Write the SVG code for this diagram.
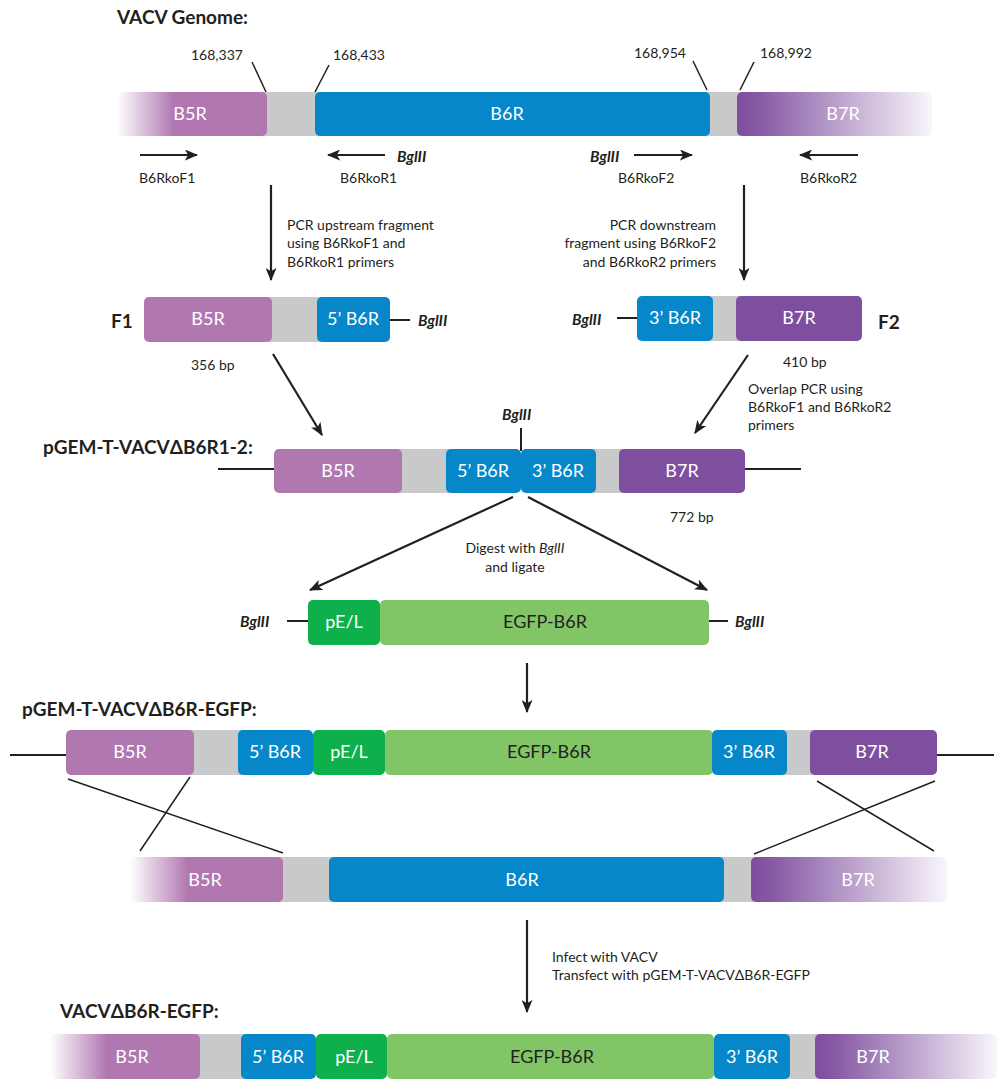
<svg xmlns="http://www.w3.org/2000/svg" width="997" height="1079" viewBox="0 0 997 1079">
<style>
text{font-family:Lato,"Open Sans","Liberation Sans",sans-serif;fill:#231F20}
.s{font-size:14px}
.h{font-size:19px;font-weight:bold}
.bi{font-size:15.5px;font-weight:bold;font-style:italic}
.bx{font-size:18px;fill:#fff;text-anchor:middle}
.dk{font-size:18px;fill:#231F20;text-anchor:middle}
.b5{fill:#B077B1}.b7{fill:#7F4F9F}.bl{fill:#0587C9}.gr{fill:#C8C9CB}.pe{fill:#0DB04B}.eg{fill:#82C566}
.ln{stroke:#231F20;stroke-width:2;fill:none}
.ar{stroke:#231F20;stroke-width:2.2;fill:none;marker-end:url(#ah)}
.th{stroke:#231F20;stroke-width:1.5;fill:none}
</style>
<defs>
<marker id="ah" viewBox="0 0 12 10" refX="11" refY="5" markerWidth="6" markerHeight="5" orient="auto" markerUnits="strokeWidth">
<path d="M0,0 L12,5 L0,10 L3,5 Z" fill="#231F20"/>
</marker>
<linearGradient id="f5" x1="0" x2="1" y1="0" y2="0">
<stop offset="0" stop-color="#B077B1" stop-opacity="0"/>
<stop offset="0.38" stop-color="#B077B1" stop-opacity="1"/>
<stop offset="1" stop-color="#B077B1" stop-opacity="1"/>
</linearGradient>
<linearGradient id="f7" x1="0" x2="1" y1="0" y2="0">
<stop offset="0" stop-color="#7F4F9F" stop-opacity="1"/>
<stop offset="0.1" stop-color="#7F4F9F" stop-opacity="0.95"/>
<stop offset="1" stop-color="#7F4F9F" stop-opacity="0.05"/>
</linearGradient>
</defs>
<rect width="997" height="1079" fill="#fff"/>

<g id="titles">
<text class="h" x="117" y="24">VACV Genome:</text>
<text class="h" x="43" y="454">pGEM-T-VACVΔB6R1-2:</text>
<text class="h" x="22" y="716">pGEM-T-VACVΔB6R-EGFP:</text>
<text class="h" x="60" y="1018">VACVΔB6R-EGFP:</text>
</g>

<g id="genome1">
<rect class="gr" x="260" y="92" width="60" height="44"/>
<rect class="gr" x="700" y="92" width="45" height="44"/>
<rect x="117" y="92" width="150" height="44" rx="5" fill="url(#f5)"/>
<rect class="bl" x="315" y="92" width="395" height="44" rx="5"/>
<rect x="737" y="92" width="195" height="44" rx="5" fill="url(#f7)"/>
<text class="bx" x="190" y="120">B5R</text>
<text class="bx" x="507" y="120">B6R</text>
<text class="bx" x="843" y="120">B7R</text>
<text class="s" x="191" y="60">168,337</text>
<text class="s" x="333" y="60">168,433</text>
<text class="s" x="634" y="58">168,954</text>
<text class="s" x="760" y="58">168,992</text>
</g>

<g id="primers">
<text class="s" x="139" y="183">B6RkoF1</text>
<text class="bi" x="397" y="162">BglII</text>
<text class="s" x="340" y="183">B6RkoR1</text>
<text class="bi" x="590" y="162">BglII</text>
<text class="s" x="618" y="183">B6RkoF2</text>
<text class="s" x="800" y="183">B6RkoR2</text>
</g>

<g id="step1text">
<text class="s" x="287" y="230">PCR upstream fragment</text>
<text class="s" x="287" y="248">using B6RkoF1 and</text>
<text class="s" x="287" y="267">B6RkoR1 primers</text>
<text class="s" x="716" y="230" text-anchor="end">PCR downstream</text>
<text class="s" x="716" y="248" text-anchor="end">fragment using B6RkoF2</text>
<text class="s" x="716" y="267" text-anchor="end">and B6RkoR2 primers</text>
</g>

<g id="F1">
<text class="h" x="111" y="328">F1</text>
<rect class="gr" x="265" y="297" width="60" height="45"/>
<rect class="b5" x="144" y="297" width="128" height="45" rx="5"/>
<rect class="bl" x="317" y="297" width="73" height="45" rx="5"/>
<text class="bx" x="208" y="325">B5R</text>
<text class="bx" x="353" y="325">5’ B6R</text>
<text class="bi" x="418" y="326">BglII</text>
<text class="s" x="191" y="370">356 bp</text>
</g>

<g id="F2">
<rect class="gr" x="705" y="296" width="40" height="45"/>
<rect class="bl" x="637" y="296" width="76" height="45" rx="5"/>
<rect class="b7" x="736" y="296" width="126" height="45" rx="5"/>
<text class="bx" x="675" y="324">3’ B6R</text>
<text class="bx" x="799" y="324">B7R</text>
<text class="bi" x="572" y="325">BglII</text>
<text class="h" x="878" y="329">F2</text>
<text class="s" x="783" y="367">410 bp</text>
<text class="s" x="748" y="394">Overlap PCR using</text>
<text class="s" x="748" y="412">B6RkoF1 and B6RkoR2</text>
<text class="s" x="748" y="430">primers</text>
</g>

<g id="pgem12">
<rect class="gr" x="395" y="449" width="60" height="44"/>
<rect class="gr" x="588" y="449" width="40" height="44"/>
<rect class="b5" x="274" y="449" width="128" height="44" rx="5"/>
<rect class="bl" x="446" y="449" width="75" height="44" rx="5"/>
<rect class="bl" x="521" y="449" width="75" height="44" rx="5"/>
<rect class="b7" x="619" y="449" width="126" height="44" rx="5"/>
<text class="bx" x="338" y="477">B5R</text>
<text class="bx" x="483" y="477">5’ B6R</text>
<text class="bx" x="558" y="477">3’ B6R</text>
<text class="bx" x="682" y="477">B7R</text>
<text class="bi" x="502" y="420">BglII</text>
<text class="s" x="670" y="522">772 bp</text>
</g>

<g id="digesttext">
<text class="s" x="515" y="553" text-anchor="middle">Digest with <tspan font-style="italic">BglII</tspan></text>
<text class="s" x="515" y="572" text-anchor="middle">and ligate</text>
</g>

<g id="insert">
<rect class="pe" x="308" y="600" width="72" height="45" rx="5"/>
<rect class="eg" x="380" y="600" width="329" height="45" rx="5"/>
<text class="bx" x="344" y="628">pE/L</text>
<text class="dk" x="545" y="628">EGFP-B6R</text>
<text class="bi" x="240" y="627">BglII</text>
<text class="bi" x="735" y="627">BglII</text>
</g>

<g id="pgemegfp">
<rect class="gr" x="188" y="730" width="60" height="45"/>
<rect class="gr" x="780" y="730" width="40" height="45"/>
<rect class="b5" x="66" y="730" width="128" height="45" rx="5"/>
<rect class="bl" x="238" y="730" width="75" height="45" rx="5"/>
<rect class="pe" x="313" y="730" width="72" height="45" rx="5"/>
<rect class="eg" x="385" y="730" width="328" height="45" rx="5"/>
<rect class="bl" x="712" y="730" width="75" height="45" rx="5"/>
<rect class="b7" x="810" y="730" width="127" height="45" rx="5"/>
<text class="bx" x="130" y="758">B5R</text>
<text class="bx" x="275" y="758">5’ B6R</text>
<text class="bx" x="349" y="758">pE/L</text>
<text class="dk" x="549" y="758">EGFP-B6R</text>
<text class="bx" x="749" y="758">3’ B6R</text>
<text class="bx" x="872" y="758">B7R</text>
</g>

<g id="genome2">
<rect class="gr" x="276" y="857" width="60" height="45"/>
<rect class="gr" x="715" y="857" width="45" height="45"/>
<rect x="130" y="857" width="153" height="45" rx="5" fill="url(#f5)"/>
<rect class="bl" x="329" y="857" width="395" height="45" rx="5"/>
<rect x="751" y="857" width="196" height="45" rx="5" fill="url(#f7)"/>
<text class="bx" x="205" y="886">B5R</text>
<text class="bx" x="522" y="886">B6R</text>
<text class="bx" x="858" y="886">B7R</text>
</g>

<g id="infecttext">
<text class="s" x="552" y="962">Infect with VACV</text>
<text class="s" x="552" y="980">Transfect with pGEM-T-VACVΔB6R-EGFP</text>
</g>

<g id="final">
<rect class="gr" x="194" y="1034" width="55" height="45"/>
<rect class="gr" x="782" y="1034" width="42" height="45"/>
<rect x="50" y="1034" width="150" height="45" rx="5" fill="url(#f5)"/>
<rect class="bl" x="241" y="1034" width="75" height="45" rx="5"/>
<rect class="pe" x="316" y="1034" width="71" height="45" rx="5"/>
<rect class="eg" x="387" y="1034" width="327" height="45" rx="5"/>
<rect class="bl" x="714" y="1034" width="76" height="45" rx="5"/>
<rect x="815" y="1034" width="182" height="45" rx="5" fill="url(#f7)"/>
<text class="bx" x="132" y="1063">B5R</text>
<text class="bx" x="278" y="1063">5’ B6R</text>
<text class="bx" x="354" y="1063">pE/L</text>
<text class="dk" x="552" y="1063">EGFP-B6R</text>
<text class="bx" x="752" y="1063">3’ B6R</text>
<text class="bx" x="873" y="1063">B7R</text>
</g>

<g id="connectors">
<line class="th" x1="252" y1="62" x2="266" y2="92"/>
<line class="th" x1="329" y1="65" x2="315" y2="92"/>
<line class="th" x1="693" y1="61" x2="707" y2="90"/>
<line class="th" x1="754" y1="62" x2="740" y2="90"/>
<line class="ar" x1="140" y1="155" x2="197" y2="155"/>
<line class="ar" x1="385" y1="155" x2="328" y2="155"/>
<line class="ar" x1="634" y1="155" x2="692" y2="155"/>
<line class="ar" x1="858" y1="155" x2="800" y2="155"/>
<line class="ar" x1="271" y1="185" x2="271" y2="280"/>
<line class="ar" x1="744" y1="185" x2="744" y2="280"/>
<line class="ln" x1="390" y1="320" x2="410" y2="320"/>
<line class="ln" x1="617" y1="318" x2="637" y2="318"/>
<line class="ar" x1="273" y1="354" x2="322" y2="435"/>
<line class="ar" x1="748" y1="355" x2="695" y2="433"/>
<line class="ln" x1="218" y1="469" x2="274" y2="469"/>
<line class="ln" x1="745" y1="469" x2="801" y2="469"/>
<line class="ln" x1="521" y1="428" x2="521" y2="451"/>
<line class="ar" x1="513" y1="497" x2="310" y2="590"/>
<line class="ar" x1="528" y1="497" x2="707" y2="590"/>
<line class="ln" x1="287" y1="621" x2="308" y2="621"/>
<line class="ln" x1="709" y1="621" x2="728" y2="621"/>
<line class="ar" x1="527" y1="663" x2="527" y2="712"/>
<line class="ln" x1="10" y1="755" x2="66" y2="755"/>
<line class="ln" x1="937" y1="755" x2="994" y2="755"/>
<line class="th" x1="68" y1="779" x2="283" y2="853"/>
<line class="th" x1="190" y1="777" x2="140" y2="851"/>
<line class="th" x1="817" y1="781" x2="934" y2="851"/>
<line class="th" x1="935" y1="781" x2="754" y2="854"/>
<line class="ar" x1="527" y1="920" x2="527" y2="1012"/>
</g>
</svg>
